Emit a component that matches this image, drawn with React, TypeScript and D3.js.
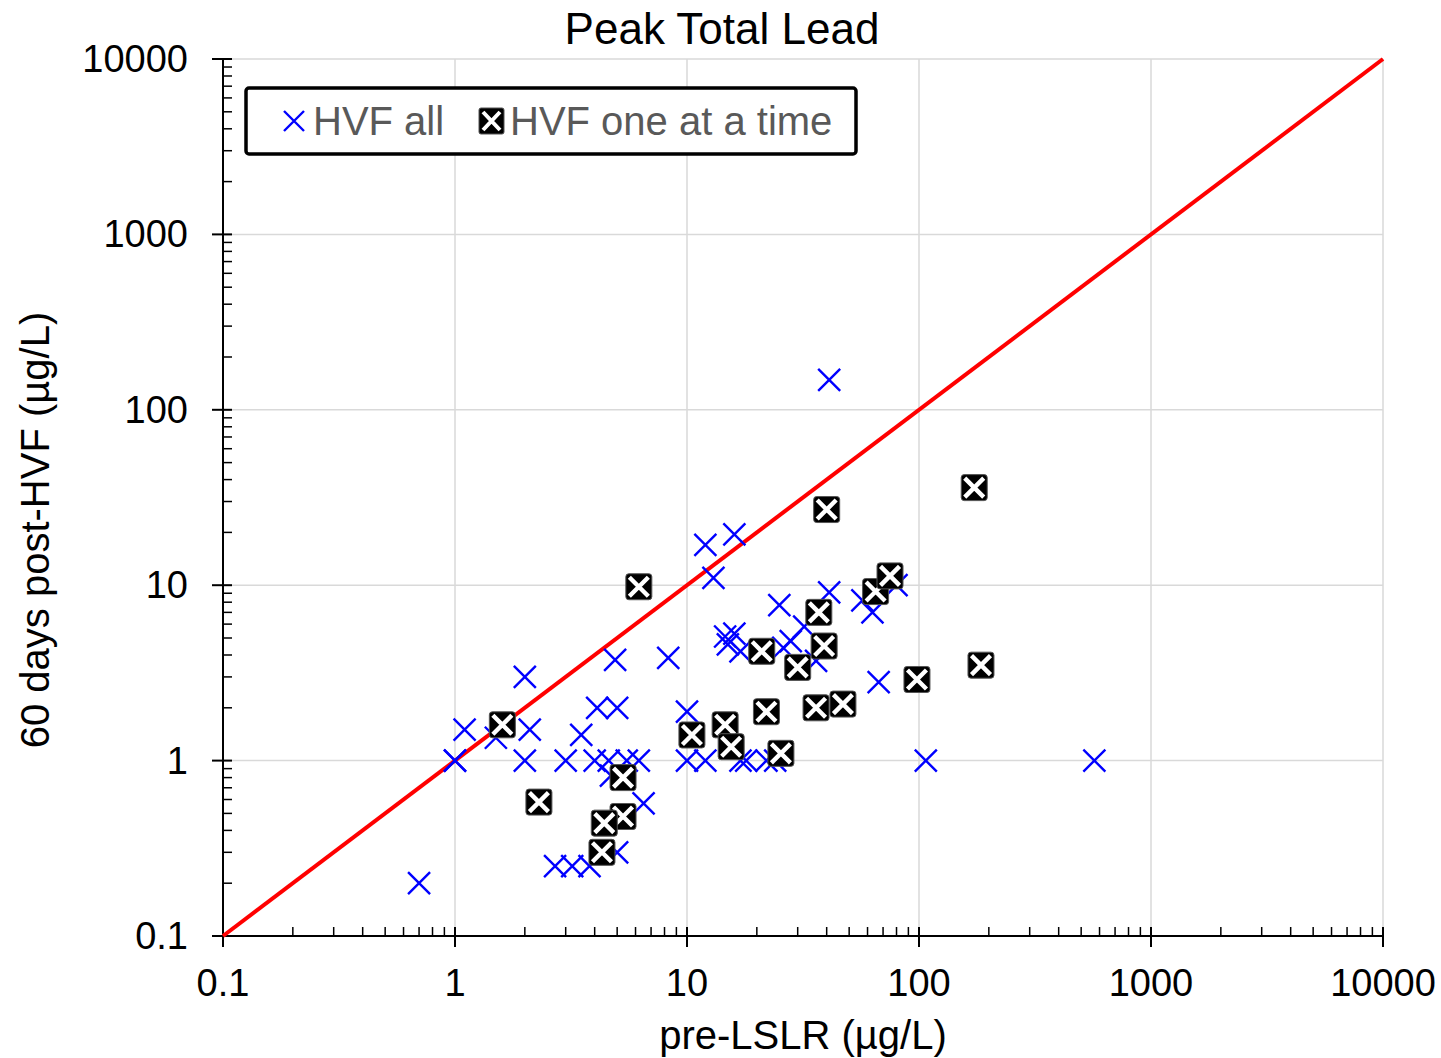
import React from "react";
import * as d3 from "d3";

const allX = [0.7, 1, 1, 1.1, 1.5, 2, 2.1, 2, 3, 3.5, 4.1, 5, 4.9, 8.3, 4.0, 4.6, 5.5, 6.2, 4.7, 6.5, 5, 2.7, 3.2, 3.8, 10, 10, 12, 17, 18, 22, 24, 12, 16, 13, 25, 41, 32, 14.6, 16, 15, 17, 26, 28, 36, 57, 63, 80, 67, 107, 570, 41];
const allY = [0.2, 1, 1, 1.5, 1.35, 3, 1.5, 1, 1, 1.4, 2.0, 2, 3.75, 3.85, 1, 1, 1, 1, 0.82, 0.57, 0.3, 0.25, 0.25, 0.25, 1.9, 1, 1, 1, 1, 1, 1, 17, 19.5, 11, 7.7, 9.1, 5.8, 5.1, 5.3, 4.6, 4.2, 4.4, 4.8, 3.7, 8.2, 7, 10, 2.8, 1, 1, 148];

const oneX = [1.6, 2.3, 5.3, 5.3, 4.4, 4.3, 6.2, 10.5, 14.6, 15.5, 21, 22, 25.4, 30, 36, 47, 37, 39, 40, 65, 75, 98, 173, 185];
const oneY = [1.6, 0.58, 0.8, 0.48, 0.44, 0.3, 9.8, 1.4, 1.6, 1.2, 4.2, 1.9, 1.1, 3.4, 2.0, 2.1, 7.0, 4.5, 27, 9.2, 11.3, 2.9, 36, 3.5];

const majorTicks = [0.1, 1, 10, 100, 1000, 10000];
const tickLabels = ["0.1", "1", "10", "100", "1000", "10000"];
const title = "Peak Total Lead";
const xTitle = "pre-LSLR (µg/L)";
const yTitle = "60 days post-HVF (µg/L)";
const legendLabels = ["HVF all", "HVF one at a time"];

const W = 1441, H = 1058;
const L = 223, R = 1383, T = 59, B = 936;
const FONT = "'Liberation Sans', Arial, sans-serif";

function BlueX({ cx, cy, s = 11 }: { cx: number; cy: number; s?: number }) {
  return (
    <path d={`M${cx - s},${cy - s}L${cx + s},${cy + s}M${cx - s},${cy + s}L${cx + s},${cy - s}`} stroke="#0000ff" strokeWidth={2.4} fill="none" />
  );
}

function BoxX({ cx, cy }: { cx: number; cy: number }) {
  const h = 13, s = 9.5;
  return (
    <g>
      <rect x={cx - h} y={cy - h} width={2 * h} height={2 * h} rx={3} fill="#000" stroke="#555" strokeWidth={1} />
      <path d={`M${cx - s},${cy - s}L${cx + s},${cy + s}M${cx - s},${cy + s}L${cx + s},${cy - s}`} stroke="#fff" strokeWidth={4.4} fill="none" />
    </g>
  );
}

export default function App() {
  const x = d3.scaleLog().domain([0.1, 10000]).range([L, R]);
  const y = d3.scaleLog().domain([0.1, 10000]).range([B, T]);

  const minor: number[] = [];
  for (let e = -1; e < 4; e++) {
    for (let m = 2; m <= 9; m++) minor.push(m * Math.pow(10, e));
  }

  return (
    <svg width={W} height={H} style={{ position: "absolute", left: 0, top: 0, background: "#fff" }} fontFamily={FONT}>
      <rect x={0} y={0} width={W} height={H} fill="#fff" />
      {/* grid */}
      {majorTicks.map((t, i) => (
        <g key={"g" + i}>
          <line x1={x(t)} x2={x(t)} y1={T} y2={B} stroke="#d9d9d9" strokeWidth={1.5} />
          <line x1={L} x2={R} y1={y(t)} y2={y(t)} stroke="#d9d9d9" strokeWidth={1.5} />
        </g>
      ))}
      {/* axes */}
      <line x1={L} x2={L} y1={T} y2={B} stroke="#000" strokeWidth={2} />
      <line x1={L} x2={R} y1={B} y2={B} stroke="#000" strokeWidth={2} />
      {majorTicks.map((t, i) => (
        <g key={"mt" + i}>
          <line x1={x(t)} x2={x(t)} y1={B - 9} y2={B + 11} stroke="#000" strokeWidth={2} />
          <line x1={L - 11} x2={L + 9} y1={y(t)} y2={y(t)} stroke="#000" strokeWidth={2} />
          <text x={x(t)} y={B + 60} textAnchor="middle" fontSize={38} fill="#000">{tickLabels[i]}</text>
          <text x={L - 35} y={y(t) + 13} textAnchor="end" fontSize={38} fill="#000">{tickLabels[i]}</text>
        </g>
      ))}
      {minor.map((t, i) => (
        <g key={"mn" + i}>
          <line x1={x(t)} x2={x(t)} y1={B - 9} y2={B} stroke="#000" strokeWidth={1.5} />
          <line x1={L} x2={L + 9} y1={y(t)} y2={y(t)} stroke="#000" strokeWidth={1.5} />
        </g>
      ))}
      {/* 1:1 line */}
      <line x1={x(0.1)} y1={y(0.1)} x2={x(10000)} y2={y(10000)} stroke="#ff0000" strokeWidth={4} />
      {/* points */}
      {allX.map((v, i) => (
        <BlueX key={"a" + i} cx={x(v)} cy={y(allY[i])} />
      ))}
      {oneX.map((v, i) => (
        <BoxX key={"o" + i} cx={x(v)} cy={y(oneY[i])} />
      ))}
      {/* legend */}
      <rect x={246} y={88} width={610} height={66} rx={3} fill="#fff" stroke="#000" strokeWidth={3.5} />
      <BlueX cx={294} cy={121} s={10} />
      <text x={313} y={135} fontSize={40} fill="#595959">{legendLabels[0]}</text>
      <g>
        <rect x={479} y={108} width={25} height={26} rx={2} fill="#000" stroke="#555" strokeWidth={1} />
        <path d="M483,112L500,130M483,130L500,112" stroke="#fff" strokeWidth={4} />
      </g>
      <text x={510} y={135} fontSize={40} fill="#595959">{legendLabels[1]}</text>
      {/* titles */}
      <text x={722} y={44} textAnchor="middle" fontSize={44} fill="#000">{title}</text>
      <text x={(L + R) / 2} y={1049} textAnchor="middle" fontSize={40} fill="#000">{xTitle}</text>
      <text transform={`translate(49,530) rotate(-90)`} textAnchor="middle" fontSize={40} fill="#000">{yTitle}</text>
    </svg>
  );
}
